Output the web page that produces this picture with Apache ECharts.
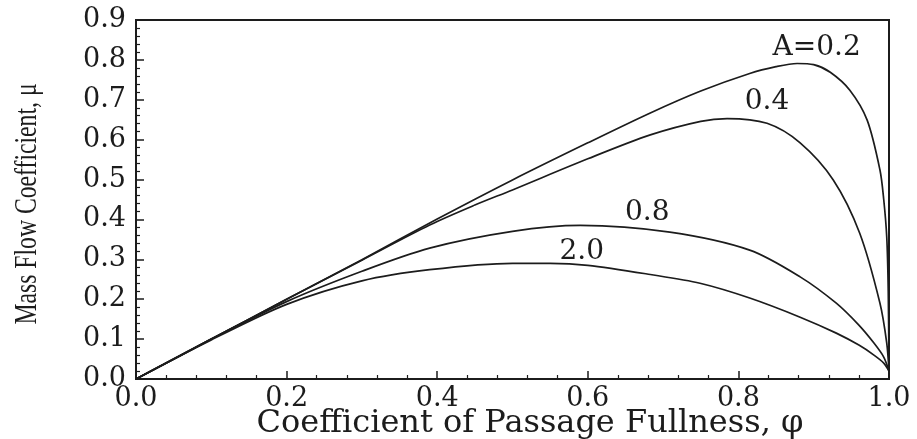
<!DOCTYPE html>
<html>
<head>
<meta charset="utf-8">
<title>Mass Flow Coefficient vs Passage Fullness</title>
<script src="https://cdn.jsdelivr.net/npm/echarts@6/dist/echarts.min.js"></script>
<style>
  html, body { margin: 0; padding: 0; background: #ffffff; }
  #chart { width: 917px; height: 439px; }
</style>
</head>
<body>
<div id="chart"></div>
<script>
// Curves of mass flow coefficient μ against passage fullness φ, one per value of A.
const phiA02 = [0, 0.1, 0.2, 0.3, 0.4, 0.5, 0.6, 0.683, 0.75, 0.815, 0.85, 0.878, 0.9, 0.922, 0.948, 0.971, 0.988, 0.993, 0.997, 0.999, 1.0];
const muA02  = [0, 0.1, 0.2, 0.299, 0.401, 0.499, 0.592, 0.667, 0.722, 0.766, 0.783, 0.791, 0.788, 0.769, 0.724, 0.649, 0.524, 0.45, 0.356, 0.22, 0.02];

const phiA04 = [0, 0.1, 0.2, 0.3, 0.39, 0.45, 0.5, 0.6, 0.683, 0.75, 0.785, 0.838, 0.882, 0.926, 0.961, 0.988, 0.997, 1.0];
const muA04  = [0, 0.1, 0.2, 0.298, 0.386, 0.436, 0.474, 0.552, 0.612, 0.646, 0.653, 0.641, 0.592, 0.499, 0.366, 0.19, 0.09, 0.02];

const phiA08 = [0, 0.1, 0.2, 0.3, 0.39, 0.5, 0.59, 0.709, 0.815, 0.882, 0.93, 0.96, 0.98, 0.993, 1.0];
const muA08  = [0, 0.1, 0.194, 0.27, 0.328, 0.37, 0.385, 0.368, 0.323, 0.256, 0.19, 0.135, 0.09, 0.055, 0.02];

const phiA20 = [0, 0.1, 0.2, 0.3, 0.39, 0.5, 0.55, 0.6, 0.683, 0.749, 0.815, 0.882, 0.93, 0.96, 0.98, 0.993, 1.0];
const muA20  = [0, 0.098, 0.187, 0.246, 0.274, 0.29, 0.29, 0.285, 0.262, 0.24, 0.203, 0.155, 0.115, 0.085, 0.06, 0.04, 0.02];

const curveNames = ['A=0.2', '0.4', '0.8', '2.0'];
// where each curve's caption sits, in axis units [φ, μ]
const labelSpots = [[0.904, 0.83], [0.838, 0.694], [0.679, 0.416], [0.592, 0.318]];

const xTickLabels = ['0.0', '0.2', '0.4', '0.6', '0.8', '1.0'];
const yTickLabels = ['0.0', '0.1', '0.2', '0.3', '0.4', '0.5', '0.6', '0.7', '0.8', '0.9'];

const pair = (xs, ys) => xs.map((x, i) => [x, ys[i]]);
const curves = [pair(phiA02, muA02), pair(phiA04, muA04), pair(phiA08, muA08), pair(phiA20, muA20)];

const ink = '#1c1c1c';
const serif = 'DejaVu Serif';

const chart = echarts.init(document.getElementById('chart'), null, { renderer: 'canvas' });

const lineSeries = curves.map((d, i) => ({
  name: curveNames[i],
  type: 'line',
  data: d,
  symbol: 'none',
  smooth: 0.3,
  lineStyle: { color: ink, width: 1.7 },
  z: 3
}));

const axisBase = {
  type: 'value',
  axisLine: { show: true, lineStyle: { color: ink, width: 2 } },
  axisTick: { show: true, inside: true, length: 8, lineStyle: { color: ink, width: 1.5 } },
  minorTick: { show: true, splitNumber: 5, length: 4, lineStyle: { color: ink, width: 1.2 } },
  splitLine: { show: false }
};

chart.setOption({
  backgroundColor: '#ffffff',
  animation: false,
  grid: {
    left: 136, right: 28, top: 20, bottom: 60,
    show: true, borderColor: ink, borderWidth: 2, backgroundColor: 'transparent'
  },
  xAxis: Object.assign({}, axisBase, {
    min: 0, max: 1, interval: 0.2,
    axisLabel: {
      margin: 6, fontFamily: serif, fontSize: 27, color: ink,
      formatter: v => xTickLabels[Math.round(v / 0.2)]
    }
  }),
  yAxis: Object.assign({}, axisBase, {
    min: 0, max: 0.9, interval: 0.1,
    axisLabel: {
      margin: 10, fontFamily: serif, fontSize: 27, color: ink,
      formatter: v => yTickLabels[Math.round(v / 0.1)]
    }
  }),
  series: lineSeries
});

// curve captions, placed through the axes' own scales
const captions = labelSpots.map((p, i) => {
  const px = chart.convertToPixel({ gridIndex: 0 }, p);
  return {
    type: 'text',
    x: px[0], y: px[1],
    z: 10,
    style: {
      text: curveNames[i], fontFamily: serif, fontSize: 28, fill: ink,
      align: 'center', verticalAlign: 'middle'
    }
  };
});

chart.setOption({
  graphic: [
    {
      type: 'text',
      x: 530, y: 424,
      style: {
        text: 'Coefficient of Passage Fullness, φ',
        fontFamily: serif, fontSize: 32, fill: ink,
        align: 'center', verticalAlign: 'middle'
      }
    },
    {
      type: 'text',
      x: 28, y: 204,
      rotation: Math.PI / 2,
      scaleX: 0.74,
      style: {
        text: 'Mass Flow Coefficient, μ',
        fontFamily: 'Liberation Serif', fontSize: 32, fill: ink,
        align: 'center', verticalAlign: 'middle'
      }
    }
  ].concat(captions)
});
</script>
</body>
</html>
